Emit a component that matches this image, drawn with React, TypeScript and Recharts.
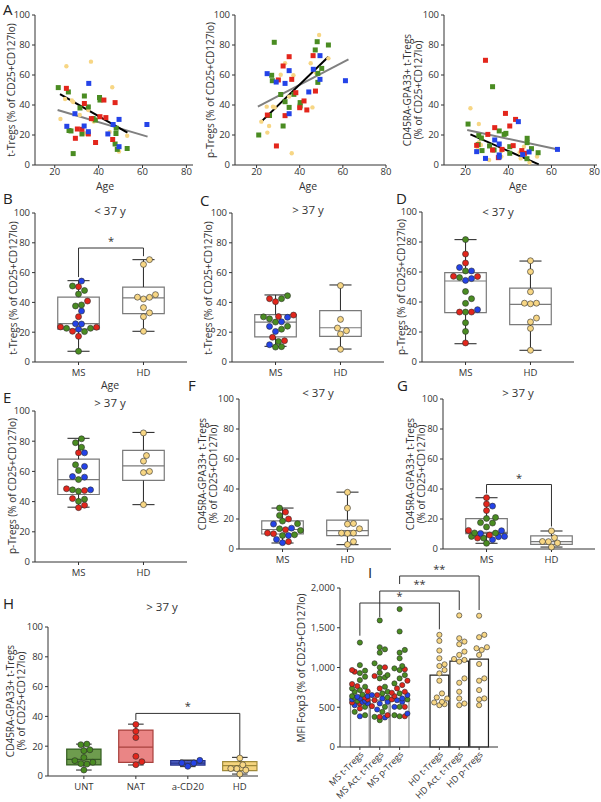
import React from 'react';
import { ComposedChart, Scatter, Line, XAxis, YAxis, ReferenceArea, ReferenceLine } from 'recharts';

const FONT = '"Open Sans", "Noto Sans", sans-serif';
const GREEN = '#4a8c22';
const RED = '#e3261c';
const BLUE = '#2443e8';
const YELLOW = '#f7d684';
const AXIS = '#333';
const BOXGRAY = '#7a7a7a';

// ---- A: age correlations, [age, value]
const a1Green = [[21.6, 51.6], [26.2, 48.7], [33.5, 46], [31.5, 38], [35.3, 38.7], [37.5, 31], [38.5, 30], [40.4, 45], [40.6, 43.3], [48, 24.5], [47.9, 21], [47.5, 14], [48.5, 10.4], [53, 11], [26.5, 23], [27.4, 22.7], [28.4, 7.6], [32.4, 20.7]];
const a1Red = [[25.3, 51.1], [33.5, 41], [36.7, 30.9], [42.4, 43.3], [40.6, 32.2], [43.3, 31.6], [47.5, 41.6], [46.4, 17], [29.4, 17.8], [30.3, 24], [32.4, 23.8], [35.3, 20.7], [38.6, 15]];
const a1Blue = [[35.5, 54.4], [46.6, 27], [44.2, 20.7], [49.3, 30.4], [49.3, 12.2], [62, 27], [25.5, 25.8], [29.2, 34.2], [33.4, 26], [35.3, 22.2]];
const a1Yellow = [[25.3, 65.8], [24.7, 44], [27.8, 43], [28.4, 42], [36.5, 68.9], [35.3, 36.7], [37.8, 29], [46.2, 51.8], [45, 22], [49.3, 9], [53, 19.5], [22.6, 30.7], [31.4, 33.3], [34, 21]];
const a1Black = [[22.4, 47.3], [53.1, 21.6]];
const a1Gray = [[21.3, 36.7], [62.3, 18.9]];

const a2Green = [[21, 20], [28.2, 81.8], [27, 59.8], [27.3, 56.2], [26, 33], [31.2, 47], [33.2, 42.2], [35.1, 38.4], [32.3, 26], [37.3, 47.1], [40.2, 41.6], [40.2, 39.3], [47.2, 76.7], [48.1, 82.2], [53.3, 80], [50.2, 64.4], [48.4, 61.1], [48.4, 55.1]];
const a2Red = [[35.1, 72.2], [32.3, 66], [30.1, 56.7], [36.3, 57.1], [38.2, 48.2], [40, 38.2], [42, 42.7], [43.3, 36.7], [33.2, 32.9], [25, 33.3], [46.2, 72.9], [47.3, 49.3], [29.2, 12.7]];
const a2Blue = [[24.9, 60.9], [29.1, 55.3], [33.2, 54.4], [35.1, 62.9], [46.3, 63.8], [49.4, 72.9], [49.4, 57.1], [44.2, 48.7], [35.1, 34.2], [61.2, 56.2]];
const a2Yellow = [[22.2, 28.9], [24.7, 38.9], [25.8, 26], [25, 21.6], [27.6, 38.9], [28.4, 38.4], [31.2, 60.2], [33.2, 67.8], [37.1, 59.8], [36.3, 7.8], [45.1, 67.8], [45.9, 38.4], [47.4, 61.6], [49, 86.7], [53.3, 71.1], [35.1, 45.6]];
const a2Black = [[22.2, 28.9], [53.3, 72.2]];
const a2Gray = [[20.6, 38.9], [62.6, 70.4]];

const a3Green = [[21.2, 27.3], [32.6, 52.2], [35.7, 22.7], [38, 20.4], [38.8, 21.1], [26.2, 19.6], [27.4, 18], [31.2, 12.7], [27.7, 9.6], [33.3, 10], [40.6, 12.2], [40.6, 7.8], [48.7, 17.8], [48.7, 14.9], [50.7, 10.9], [53.8, 8.2], [25.9, 13.6], [48.6, 4.2]];
const a3Red = [[29.3, 69.8], [38.6, 34.4], [43.3, 30.4], [40.6, 26], [33.6, 24.9], [30.4, 20.4], [25.2, 13.1], [42.2, 12.9], [46.2, 9.6], [32.6, 10], [35.3, 4.9], [47.5, 7.8], [37, 10.4]];
const a3Blue = [[44.6, 28.9], [33.6, 16.7], [35.7, 14], [25.2, 8.9], [29.3, 4.4], [35.7, 6.7], [35.7, 5.3], [46.6, 6.9], [49.6, 8.7], [62.8, 10.4]];
const a3Yellow = [[22.3, 37.8], [26.2, 27.3], [26.2, 15.1], [25.6, 10.4], [27.2, 13.3], [31, 3.3], [36.7, 9.3], [36.7, 5.6], [47.2, 12.2], [45.7, 4.4], [49.8, 1.6], [53.3, 5.6], [45.2, 8.4]];
const a3Black = [[22.3, 20.4], [54.1, 0.4]];
const a3Gray = [[20.8, 23.3], [63.1, 10.4]];

// ---- B-G: box plots, MS split by colour + HD; box = [min, q1, median, q3, max]
const bMsG = [51, 48, 45.6, 38.3, 37.6, 22.6, 22.6, 20.4, 7.2];
const bMsR = [50.5, 40.9, 30.4, 23.5, 23.3, 20.6, 17.2];
const bMsB = [54.3, 34.2, 25.5, 25.7, 22];
const bHd = [68.7, 65.5, 45.2, 43.5, 43.4, 42.3, 36.5, 33, 30.4, 20.6];
const bBoxMs = [7.2, 22.1, 25.7, 43.6, 54.6];
const bBoxHd = [20.6, 32.4, 43, 50.3, 68.7];

const cMsG = [44.5, 42.5, 30.3, 29, 26.8, 24, 22, 13.8, 10, 10.3];
const cMsR = [42.5, 40.5, 30.5, 31.5, 16.6, 14.3];
const cMsB = [30, 27, 23.9, 20.5, 11.6];
const cHd = [51.3, 28.6, 22.8, 21, 18.8, 8.5];
const cBoxMs = [10.5, 16.8, 26.8, 31.8, 45];
const cBoxHd = [8.7, 17.2, 23, 34.5, 51.7];

const dMsG = [81.6, 60.7, 56.3, 47, 42.2, 39.1, 33.3, 26.2, 20.4];
const dMsR = [72, 66, 57, 57.1, 33.3, 33.3, 12.7];
const dMsB = [63, 60.7, 54.4, 55.6, 34.9];
const dHd = [67.5, 60.2, 46.8, 39.2, 39.2, 38.8, 29.3, 26.7, 22.4, 7.8];
const dBoxMs = [12.2, 32.9, 54, 59.6, 81.6];
const dBoxHd = [7.8, 24.9, 38.4, 49.3, 67.3];

const eMsG = [81.6, 79, 76, 64.4, 60.6, 54.6, 46.9, 47.8, 41.6, 40.2];
const eMsR = [72.3, 47.3, 48.5, 42, 37.6, 36];
const eMsB = [72.3, 63.3, 56.2, 56.6, 47.8];
const eHd = [85.5, 70.5, 66.8, 60, 59.2, 38];
const eBoxMs = [36.3, 44.7, 54.6, 68.1, 81.9];
const eBoxHd = [38, 54, 63.7, 73.9, 85.8];

const fMsG = [27.3, 22.4, 18.6, 16.9, 13.5, 12.4, 9, 9.5];
const fMsR = [24.6, 20, 12.9, 10.6, 10.2, 4.9];
const fMsB = [16.6, 13.9, 9, 6.4, 4.2];
const fHd = [37.8, 27.3, 16.6, 17, 13.5, 10.6, 10.6, 10.4, 4.9, 3];
const fBoxMs = [4, 10, 13, 18.8, 27.3];
const fBoxHd = [2.9, 8.9, 12.2, 19.3, 37.9];

const gMsG = [21, 20.4, 17.6, 17.3, 14.7, 10.7, 10.6, 8.4, 7.3, 3.8];
const gMsR = [34.2, 30, 25.6, 12.4, 9.3, 7.3];
const gMsB = [28.6, 12.2, 10.4, 8.4, 8.2, 6.2];
const gHd = [12, 7.5, 5, 4.9, 4, 1.3];
const gBoxMs = [3.8, 10.2, 11.1, 20.2, 34.2];
const gBoxHd = [1.3, 3.1, 4.9, 8.7, 12];

// ---- H: by treatment (> 37 y)
const hCats = ['UNT', 'NAT', 'a-CD20', 'HD'];
const hUnt = [21.4, 21, 17.6, 17, 12.4, 10.3, 9.2, 8.3, 8.0, 4.0];
const hNat = [34.6, 30, 25.8, 13.2, 9.6, 7.6];
const hCd20 = [10.5, 8.8, 8.7, 6.5];
const hHd = [12, 7.5, 5, 4.9, 4, 1.3];
const hBoxUnt = [4, 7.4, 11.2, 18.1, 21.4];
const hBoxNat = [7.4, 9.2, 19.4, 30.8, 34.8];
const hBoxCd20 = [6.3, 7.3, 8.7, 10.3, 10.7];
const hBoxHd = [1.3, 3.6, 6.9, 9.6, 12.5];

// ---- I: MFI Foxp3
const iNames = ['MS t-Tregs', 'MS Act. t-Tregs', 'MS p-Tregs', 'HD t-Tregs', 'HD Act. t-Tregs', 'HD p-Tregs'];
const iPos = [1, 2, 3, 5, 6, 7];
const iMeans = [600, 590, 610, 905, 1080, 1105];
const iMsTG = [1314, 1030, 960, 930, 884, 842, 758, 737, 716, 695, 660, 640, 620, 580, 505, 442, 400];
const iMsTR = [968, 947, 792, 766, 700, 623, 600, 560, 547, 484];
const iMsTB = [640, 632, 610, 598, 580, 568, 550, 526, 387];
const iMsAG = [1592, 1255, 1229, 1187, 1053, 1002, 935, 905, 876, 863, 758, 695, 674, 623, 505, 442, 379, 337];
const iMsAR = [1002, 893, 737, 653, 589, 514, 400, 379];
const iMsAB = [653, 611, 568, 547, 472, 371];
const iMsPG = [1735, 1453, 1221, 1187, 1116, 1019, 989, 968, 905, 863, 800, 674, 598, 505, 400, 387];
const iMsPR = [977, 834, 779, 737, 695, 682, 640, 598, 505, 387];
const iMsPB = [653, 611, 589, 568, 505, 421];
const iHdT = [1411, 1335, 1213, 1116, 1040, 1019, 968, 926, 834, 674, 623, 610, 568, 560, 539, 526];
const iHdA = [1655, 1368, 1326, 1293, 1200, 1158, 1107, 1095, 1074, 863, 808, 695, 611, 547, 526];
const iHdP = [1651, 1411, 1381, 1255, 1242, 1221, 1158, 1044, 863, 834, 716, 611, 598, 526];

type Item = { v: number; c: string };
const tag = (vals: number[], c: string): Item[] => vals.map((v) => ({ v, c }));
const pts = (arr: number[][]) => arr.map(([x, y]) => ({ x, y }));

// simple beeswarm so overlapping dots spread sideways
function swarm(items: Item[], cx: number, pxX: number, pxY: number, d: number, maxOff: number) {
  const out: { x: number; y: number; c: string; ox: number; oy: number }[] = [];
  const sorted = [...items].sort((a, b) => a.v - b.v);
  const step = d * 0.5;
  const cands: number[] = [0];
  for (let o = step; o <= maxOff + 0.01; o += step) cands.push(o, -o);
  for (const it of sorted) {
    const oy = it.v * pxY;
    let best = 0;
    let bestGap = -1;
    for (const o of cands) {
      let gap = Infinity;
      for (const q of out) {
        const dist = Math.hypot(q.ox - o, q.oy - oy);
        if (dist < gap) gap = dist;
      }
      if (gap >= d) { best = o; break; }
      if (gap > bestGap) { bestGap = gap; best = o; }
    }
    out.push({ x: cx + best / pxX, y: it.v, c: it.c, ox: best, oy });
  }
  return out;
}

const YW = 40;
const MT = 30;
const MR = 12;

const tickStyle = { fontSize: 9.5, fill: AXIS, fontFamily: FONT };

const dotShape = (r: number) => (p: any) => (
  <circle cx={p.cx} cy={p.cy} r={r} fill={p.payload.c} stroke="#2b2b2b" strokeWidth={0.6} />
);

function boxEls(x: number, s: number[], hw: number, cw: number, key: string, fill = 'none', stroke = BOXGRAY) {
  const [mn, q1, md, q3, mx] = s;
  const w = { stroke: AXIS, strokeWidth: 1.1, ifOverflow: 'visible' as const };
  return [
    <ReferenceArea key={key + 'b'} x1={x - hw} x2={x + hw} y1={q1} y2={q3} fill={fill} fillOpacity={1} stroke={stroke} strokeWidth={1.2} ifOverflow="visible" />,
    <ReferenceLine key={key + 'w1'} segment={[{ x, y: q3 }, { x, y: mx }]} {...w} />,
    <ReferenceLine key={key + 'w2'} segment={[{ x, y: mn }, { x, y: q1 }]} {...w} />,
    <ReferenceLine key={key + 'c1'} segment={[{ x: x - cw, y: mx }, { x: x + cw, y: mx }]} {...w} />,
    <ReferenceLine key={key + 'c2'} segment={[{ x: x - cw, y: mn }, { x: x + cw, y: mn }]} {...w} />,
    <ReferenceLine key={key + 'm'} segment={[{ x: x - hw, y: md }, { x: x + hw, y: md }]} stroke={stroke} strokeWidth={1.2} ifOverflow="visible" />,
  ];
}

function bracketEls(x1: number, x2: number, y: number, l1: number, l2: number, label: string, key: string) {
  const s = { stroke: AXIS, strokeWidth: 1, ifOverflow: 'visible' as const };
  return [
    <ReferenceLine key={key + 'h'} segment={[{ x: x1, y }, { x: x2, y }]} {...s}
      label={{ value: label, position: 'top', fontSize: 11, fill: AXIS, fontFamily: FONT, offset: 3 }} />,
    <ReferenceLine key={key + 'l'} segment={[{ x: x1, y }, { x: x1, y: l1 }]} {...s} />,
    <ReferenceLine key={key + 'r'} segment={[{ x: x2, y }, { x: x2, y: l2 }]} {...s} />,
  ];
}

function AgePanel({ L, W, xDomain, green, red, blue, yellow, black, gray }: any) {
  const T = 15;
  const H = 150;
  const sq = (color: string) => (p: any) => <rect x={p.cx - 2.5} y={p.cy - 2.5} width={5} height={5} fill={color} />;
  const yd = (p: any) => <circle cx={p.cx} cy={p.cy} r={2.2} fill={YELLOW} />;
  return (
    <div style={{ position: 'absolute', left: L - YW, top: T - MT }}>
      <ComposedChart width={W + YW + MR} height={H + MT + 16} margin={{ top: MT, right: MR, left: 0, bottom: 0 }}>
        <XAxis type="number" dataKey="x" domain={xDomain} ticks={[20, 40, 60, 80]} height={16} stroke={AXIS} tickSize={3} tickMargin={0} tick={tickStyle} interval={0} allowDataOverflow />
        <YAxis type="number" dataKey="y" domain={[0, 100]} ticks={[0, 20, 40, 60, 80, 100]} width={YW} stroke={AXIS} tickSize={3} tick={tickStyle} interval={0} />
        <Scatter data={pts(yellow)} shape={yd} isAnimationActive={false} />
        <Scatter data={pts(green)} shape={sq(GREEN)} isAnimationActive={false} />
        <Scatter data={pts(red)} shape={sq(RED)} isAnimationActive={false} />
        <Scatter data={pts(blue)} shape={sq(BLUE)} isAnimationActive={false} />
        <Line data={pts(gray)} dataKey="y" stroke="#808080" strokeWidth={2} dot={false} isAnimationActive={false} />
        <Line data={pts(black)} dataKey="y" stroke="#000" strokeWidth={2} dot={false} isAnimationActive={false} />
      </ComposedChart>
    </div>
  );
}

const CAT2 = ['MS', 'HD'];

function BoxPanel({ L, T, H, ms, hd, boxMs, boxHd, bracket }: any) {
  const dom = [0.33, 2.67];
  const W = 152;
  const pxX = W / (dom[1] - dom[0]);
  const pxY = H / 100;
  const dots = [...swarm(ms, 1, pxX, pxY, 6, 20), ...swarm(tag(hd, YELLOW), 2, pxX, pxY, 6, 20)];
  return (
    <div style={{ position: 'absolute', left: L - YW, top: T - MT }}>
      <ComposedChart width={W + YW + MR} height={H + MT + 25} margin={{ top: MT, right: MR, left: 0, bottom: 0 }}>
        <XAxis type="number" dataKey="x" domain={dom} ticks={[1, 2]} tickFormatter={(v: number) => CAT2[v - 1]} height={25} stroke={AXIS} tickSize={3} tickMargin={4} tick={tickStyle} interval={0} />
        <YAxis type="number" dataKey="y" domain={[0, 100]} ticks={[0, 20, 40, 60, 80, 100]} width={YW} stroke={AXIS} tickSize={3} tick={tickStyle} interval={0} />
        {boxEls(1, boxMs, 0.32, 0.17, 'ms')}
        {boxEls(2, boxHd, 0.32, 0.17, 'hd')}
        {bracket ? bracketEls(1, 2, bracket[0], bracket[1], bracket[2], '*', 'br') : null}
        <Scatter data={dots} shape={dotShape(3)} isAnimationActive={false} />
      </ComposedChart>
    </div>
  );
}

function PanelH() {
  const L = 48, T = 627, H = 149;
  const dom = [0.31, 4.35];
  const W = 210;
  const pxX = W / (dom[1] - dom[0]);
  const pxY = H / 100;
  const dots = [
    ...swarm(tag(hUnt, GREEN), 1, pxX, pxY, 6, 16),
    ...swarm(tag(hNat, RED), 2, pxX, pxY, 6, 16),
    ...swarm(tag(hCd20, BLUE), 3, pxX, pxY, 6, 16),
    ...swarm(tag(hHd, YELLOW), 4, pxX, pxY, 6, 16),
  ];
  return (
    <div style={{ position: 'absolute', left: L - YW, top: T - MT }}>
      <ComposedChart width={W + YW + MR} height={H + MT + 25} margin={{ top: MT, right: MR, left: 0, bottom: 0 }}>
        <XAxis type="number" dataKey="x" domain={dom} ticks={[1, 2, 3, 4]} tickFormatter={(v: number) => hCats[v - 1]} height={25} stroke={AXIS} tickSize={3} tickMargin={4} tick={tickStyle} interval={0} />
        <YAxis type="number" dataKey="y" domain={[0, 100]} ticks={[0, 20, 40, 60, 80, 100]} width={YW} stroke={AXIS} tickSize={3} tick={tickStyle} interval={0} />
        {boxEls(1, hBoxUnt, 0.33, 0.15, 'u', '#6e9c4e', '#355f22')}
        {boxEls(2, hBoxNat, 0.33, 0.15, 'n', '#ea8585', '#a8423e')}
        {boxEls(3, hBoxCd20, 0.33, 0.15, 'c', '#5568d2', '#27338a')}
        {boxEls(4, hBoxHd, 0.33, 0.15, 'h', '#f5d47e', '#a08a3a')}
        {bracketEls(2, 4, 42, 37.5, 14, '*', 'hb')}
        <Scatter data={dots} shape={dotShape(3)} isAnimationActive={false} />
      </ComposedChart>
    </div>
  );
}

const SlantTick = (p: any) => {
  const i = iPos.indexOf(p.payload.value);
  const x = p.x + 2;
  const y = p.y + 1;
  return (
    <text x={x} y={y} transform={`rotate(-45 ${x} ${y})`} textAnchor="end" dy="0.35em" fontSize={9} fill={AXIS} fontFamily={FONT}>
      {iNames[i]}
    </text>
  );
};

function PanelI() {
  const L = 340, T = 588, H = 159;
  const dom = [0, 7.95];
  const W = 158;
  const pxX = W / (dom[1] - dom[0]);
  const pxY = H / 2000;
  const groups = [
    [...tag(iMsTG, GREEN), ...tag(iMsTR, RED), ...tag(iMsTB, BLUE)],
    [...tag(iMsAG, GREEN), ...tag(iMsAR, RED), ...tag(iMsAB, BLUE)],
    [...tag(iMsPG, GREEN), ...tag(iMsPR, RED), ...tag(iMsPB, BLUE)],
    tag(iHdT, YELLOW),
    tag(iHdA, YELLOW),
    tag(iHdP, YELLOW),
  ];
  const dots = groups.flatMap((g, k) => swarm(g, iPos[k], pxX, pxY, 5.2, 8.5));
  return (
    <div style={{ position: 'absolute', left: L - YW, top: T - MT }}>
      <ComposedChart width={W + YW + MR} height={H + MT + 55} margin={{ top: MT, right: MR, left: 0, bottom: 0 }}>
        <XAxis type="number" dataKey="x" domain={dom} ticks={iPos} tick={<SlantTick />} height={55} stroke={AXIS} tickSize={3} interval={0} />
        <YAxis type="number" dataKey="y" domain={[0, 2000]} ticks={[0, 500, 1000, 1500, 2000]} tickFormatter={(v: number) => v.toLocaleString('en-US')} width={YW} stroke={AXIS} tickSize={3} tick={tickStyle} interval={0} />
        {iPos.map((x, k) => (
          <ReferenceArea key={'bar' + k} x1={x - 0.47} x2={x + 0.47} y1={0} y2={iMeans[k]} fill="#fff" fillOpacity={1} stroke={k < 3 ? '#8a8a8a' : '#222'} strokeWidth={1.2} />
        ))}
        {bracketEls(1, 5, 1811, 1400, 1480, '*', 'i1')}
        {bracketEls(2, 6, 1962, 1635, 1723, '**', 'i2')}
        {bracketEls(3, 7, 2151, 2050, 1723, '**', 'i3')}
        <Scatter data={dots} shape={dotShape(2.6)} isAnimationActive={false} />
      </ComposedChart>
    </div>
  );
}

const Txt = ({ x, y, size = 10, children }: any) => (
  <div style={{ position: 'absolute', left: x, top: y, transform: 'translate(-50%, -50%)', fontSize: size, whiteSpace: 'nowrap', color: AXIS, fontFamily: FONT, lineHeight: 1 }}>
    {children}
  </div>
);

const VLabel = ({ x, y, lines }: any) => (
  <div style={{ position: 'absolute', left: x, top: y, transform: 'translate(-50%, -50%) rotate(-90deg)', fontSize: 10, lineHeight: '11px', whiteSpace: 'nowrap', textAlign: 'center', color: AXIS, fontFamily: FONT }}>
    {lines.map((l: string) => <div key={l}>{l}</div>)}
  </div>
);

const Letter = ({ x, y, children }: any) => (
  <div style={{ position: 'absolute', left: x, top: y, fontSize: 15, color: '#222', fontFamily: FONT, lineHeight: 1 }}>{children}</div>
);

const L1 = 't-Tregs (% of CD25+CD127lo)';
const L2 = 'p-Tregs (% of CD25+CD127lo)';
const L3 = ['CD45RA-GPA33+ t-Tregs', '(% of CD25+CD127lo)'];

export default function App() {
  const ms = (g: number[], r: number[], b: number[]) => [...tag(g, GREEN), ...tag(r, RED), ...tag(b, BLUE)];
  return (
    <div style={{ position: 'absolute', left: 0, top: 0, width: 601, height: 802, overflow: 'hidden', background: '#fff', fontFamily: FONT }}>
      <AgePanel L={35} W={158} xDomain={[11, 83]} green={a1Green} red={a1Red} blue={a1Blue} yellow={a1Yellow} black={a1Black} gray={a1Gray} />
      <AgePanel L={235} W={151} xDomain={[10, 80]} green={a2Green} red={a2Red} blue={a2Blue} yellow={a2Yellow} black={a2Black} gray={a2Gray} />
      <AgePanel L={444} W={153} xDomain={[10, 81.2]} green={a3Green} red={a3Red} blue={a3Blue} yellow={a3Yellow} black={a3Black} gray={a3Gray} />

      <BoxPanel L={35} T={213} H={149} ms={ms(bMsG, bMsR, bMsB)} hd={bHd} boxMs={bBoxMs} boxHd={bBoxHd} bracket={[76.5, 57, 71]} />
      <BoxPanel L={232} T={213} H={149} ms={ms(cMsG, cMsR, cMsB)} hd={cHd} boxMs={cBoxMs} boxHd={cBoxHd} />
      <BoxPanel L={422} T={212} H={150} ms={ms(dMsG, dMsR, dMsB)} hd={dHd} boxMs={dBoxMs} boxHd={dBoxHd} />
      <BoxPanel L={35} T={411} H={151} ms={ms(eMsG, eMsR, eMsB)} hd={eHd} boxMs={eBoxMs} boxHd={eBoxHd} />
      <BoxPanel L={239} T={399} H={150} ms={ms(fMsG, fMsR, fMsB)} hd={fHd} boxMs={fBoxMs} boxHd={fBoxHd} />
      <BoxPanel L={443} T={399} H={150} ms={ms(gMsG, gMsR, gMsB)} hd={gHd} boxMs={gBoxMs} boxHd={gBoxHd} bracket={[43, 37, 15]} />
      <PanelH />
      <PanelI />

      <VLabel x={11} y={90} lines={[L1]} />
      <VLabel x={210} y={90} lines={[L2]} />
      <VLabel x={413} y={90} lines={L3} />
      <Txt x={105} y={186} size={10.5}>Age</Txt>
      <Txt x={308} y={186} size={10.5}>Age</Txt>
      <Txt x={518} y={186} size={10.5}>Age</Txt>
      <Txt x={110} y={385} size={10.5}>Age</Txt>

      <VLabel x={13} y={288} lines={[L1]} />
      <VLabel x={208} y={288} lines={[L1]} />
      <VLabel x={401} y={287} lines={[L2]} />
      <VLabel x={12} y={486} lines={[L2]} />
      <VLabel x={208} y={474} lines={L3} />
      <VLabel x={416} y={474} lines={L3} />
      <VLabel x={16} y={701} lines={L3} />
      <VLabel x={301} y={668} lines={['MFI Foxp3 (% of CD25+CD127lo)']} />

      <Txt x={110} y={211} size={11.5}>&lt; 37 y</Txt>
      <Txt x={308} y={210} size={11.5}>&gt; 37 y</Txt>
      <Txt x={498} y={212} size={11.5}>&lt; 37 y</Txt>
      <Txt x={110} y={403} size={11.5}>&gt; 37 y</Txt>
      <Txt x={318} y={393} size={11.5}>&lt; 37 y</Txt>
      <Txt x={518} y={393} size={11.5}>&gt; 37 y</Txt>
      <Txt x={162} y={607} size={11.5}>&gt; 37 y</Txt>

      <Letter x={3} y={2}>A</Letter>
      <Letter x={3} y={191}>B</Letter>
      <Letter x={200} y={193}>C</Letter>
      <Letter x={396} y={191}>D</Letter>
      <Letter x={3} y={390}>E</Letter>
      <Letter x={188} y={378}>F</Letter>
      <Letter x={397} y={378}>G</Letter>
      <Letter x={3} y={596}>H</Letter>
      <Letter x={368} y={565}>I</Letter>
    </div>
  );
}
